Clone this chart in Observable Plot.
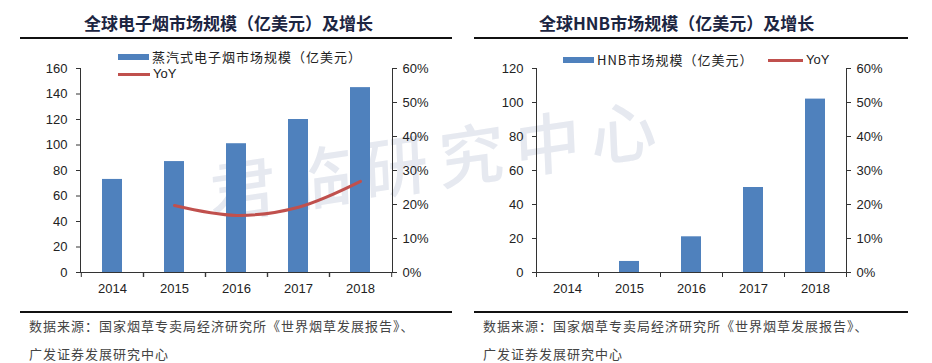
<!DOCTYPE html>
<html><head><meta charset="utf-8">
<script src="https://cdn.jsdelivr.net/npm/d3@7"></script>
<script src="https://cdn.jsdelivr.net/npm/@observablehq/plot@0.6"></script>
<style>
html,body{margin:0;padding:0;background:#fff;}
#root{position:relative;width:932px;height:363px;overflow:hidden;font-family:"Liberation Sans",Arial,sans-serif;}
.panel{position:absolute;top:0;width:466px;height:363px;}
.title{position:absolute;top:11px;font-family:"Noto Sans CJK SC",sans-serif;font-weight:700;font-size:17px;color:#1c2541;white-space:nowrap;line-height:24px;}
.rule{position:absolute;height:2px;background:#111;}
.cap{position:absolute;font-family:"Noto Sans CJK SC",sans-serif;font-size:13px;letter-spacing:1px;color:#444;white-space:nowrap;line-height:18px;}
.plotwrap{position:absolute;top:40px;left:0;}
.leg{position:absolute;display:flex;align-items:center;font-size:13px;color:#222;white-space:nowrap;line-height:16px;}
.leg .sw{display:inline-block;margin-right:3px;}
.leg .cjk{font-family:"Noto Sans CJK SC",sans-serif;letter-spacing:1px;}
#wm{position:absolute;left:210px;top:157px;font-family:"Noto Sans CJK SC",sans-serif;font-weight:500;font-size:66px;line-height:66px;letter-spacing:11px;color:#e6e9f0;transform:rotate(-8.5deg) skewX(-6deg);transform-origin:0 50%;white-space:nowrap;pointer-events:none;}
</style></head>
<body>
<div id="root">
  <div id="wm">君临研究中心</div>
  <div class="panel" id="p1" style="left:0"></div>
  <div class="panel" id="p2" style="left:466px"></div>
</div>
<script>
// ---- data ----
const years = ["2014","2015","2016","2017","2018"];
const vaporSize = [73, 87, 101, 120, 145];          // 亿美元
const vaporYoYYears = ["2015","2016","2017","2018"];
const vaporYoY = [0.197, 0.168, 0.192, 0.268];
const hnbSize = [0, 6.5, 21, 50, 102];               // 亿美元
const pctTicks = [0, 0.1, 0.2, 0.3, 0.4, 0.5, 0.6];

const BLUE = "#4f81bd", RED = "#c0504d", AX = "#333";

function panel(el, o) {
  const t = document.createElement("div");
  t.className = "title"; t.textContent = o.title;
  t.style.left = o.titleLeft + "px";
  el.appendChild(t);
  for (const y of [37, 311]) {
    const r = document.createElement("div");
    r.className = "rule"; r.style.top = y + "px";
    r.style.left = o.ruleL + "px"; r.style.width = (o.ruleR - o.ruleL) + "px";
    el.appendChild(r);
  }
  o.caption.forEach((c, i) => {
    const d = document.createElement("div");
    d.className = "cap"; d.textContent = c;
    d.style.left = o.capLeft + "px"; d.style.top = (317 + i * 28) + "px";
    el.appendChild(d);
  });

  const ymax = o.ymax;
  const toY = p => p * ymax / 0.6;
  const bars = years.map((y, i) => ({year: y, v: o.values[i]}));
  const line = (o.yoyYears || []).map((y, i) => ({year: y, r: o.yoy[i]}));
  const half = o.step / 2;
  const chart = Plot.plot({
    width: 466, height: 262,
    marginTop: 28, marginBottom: 30, marginLeft: o.ml, marginRight: o.mr,
    style: {background: "transparent", fontFamily: "'Liberation Sans',Arial,sans-serif", fontSize: "13px", color: "#222"},
    x: {domain: years, paddingInner: 0.68, paddingOuter: 0.34, label: null},
    y: {domain: [0, ymax], label: null},
    marks: [
      Plot.barY(bars, {x: "year", y: "v", fill: BLUE}),
      Plot.line(line, {x: "year", y: d => toY(d.r), stroke: RED, strokeWidth: 3, curve: "catmull-rom"}),
      Plot.frame({anchor: "left", stroke: AX}),
      Plot.frame({anchor: "right", stroke: AX}),
      Plot.ruleY([0], {stroke: AX}),
      Plot.axisY({anchor: "left", ticks: d3.range(0, ymax + 1, 20), tickSize: 4, tickPadding: 9, stroke: AX, fontSize: 13, label: null}),
      Plot.axisY({anchor: "right", ticks: pctTicks.map(toY), tickFormat: v => Math.round(v / ymax * 60) + "%", tickSize: 4, tickPadding: 6, stroke: AX, fontSize: 13, label: null}),
      Plot.axisX({tickSize: 0, tickPadding: 11, fontSize: 13, label: null}),
      Plot.axisX({tickSize: 5, tickFormat: () => "", dx: half, stroke: AX, label: null}),
      Plot.axisX({tickSize: 5, tickFormat: () => "", dx: -half, stroke: AX, label: null})
    ]
  });
  const w = document.createElement("div");
  w.className = "plotwrap"; w.appendChild(chart);
  el.appendChild(w);

  o.legend.forEach(L => {
    const d = document.createElement("div");
    d.className = "leg";
    d.style.left = L.x + "px"; d.style.top = L.y + "px";
    const s = document.createElement("span");
    s.className = "sw"; s.style.width = L.w + "px"; s.style.height = L.h + "px"; s.style.background = L.c;
    const tx = document.createElement("span");
    tx.textContent = L.text; if (L.cjk) tx.className = "cjk";
    d.appendChild(s); d.appendChild(tx);
    el.appendChild(d);
  });
}

const caption = ["数据来源：国家烟草专卖局经济研究所《世界烟草发展报告》、", "广发证券发展研究中心"];

panel(document.getElementById("p1"), {
  title: "全球电子烟市场规模（亿美元）及增长", titleLeft: 84,
  ruleL: 20, ruleR: 452, capLeft: 29, caption,
  values: vaporSize, yoyYears: vaporYoYYears, yoy: vaporYoY,
  ymax: 160, ml: 80, mr: 74, step: 62.4,
  legend: [
    {x: 118, y: 49, w: 31, h: 6, c: BLUE, text: "蒸汽式电子烟市场规模（亿美元）", cjk: true},
    {x: 118, y: 66, w: 32, h: 3, c: RED, text: "YoY"}
  ]
});
panel(document.getElementById("p2"), {
  title: "全球HNB市场规模（亿美元）及增长", titleLeft: 73,
  ruleL: 8, ruleR: 442, capLeft: 17, caption,
  values: hnbSize,
  ymax: 120, ml: 70, mr: 86, step: 62,
  legend: [
    {x: 97, y: 52, w: 31, h: 6, c: BLUE, text: "HNB市场规模（亿美元）", cjk: true},
    {x: 302, y: 52, w: 35, h: 3, c: RED, text: "YoY"}
  ]
});
</script>
</body></html>
